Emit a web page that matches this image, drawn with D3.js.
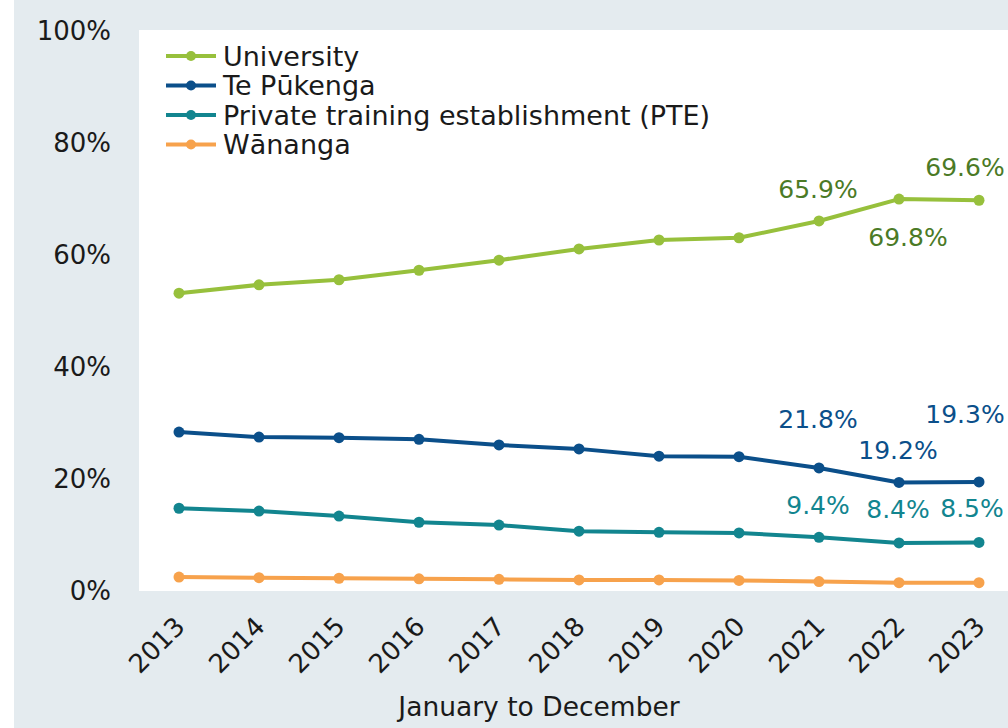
<!DOCTYPE html>
<html lang="en">
<head>
    <meta charset="UTF-8">
    <title>Enrolments by provider type</title>
    <style>
        body { margin: 0; background: #ffffff; }
        text { font-family: "DejaVu Sans", Verdana, sans-serif; }
    </style>
</head>
<body>
<script src='https://d3js.org/d3.v7.min.js'></script>
<script>
    const years = [2013, 2014, 2015, 2016, 2017, 2018, 2019, 2020, 2021, 2022, 2023];
    const seriesNames = ["University", "Te Pūkenga", "Private training establishment (PTE)", "Wānanga"];
    const university = [53.0, 54.5, 55.4, 57.1, 58.9, 60.9, 62.5, 62.9, 65.9, 69.8, 69.6];
    const tePukenga = [28.2, 27.3, 27.2, 26.9, 25.9, 25.2, 23.9, 23.8, 21.8, 19.2, 19.3];
    const pte = [14.6, 14.1, 13.2, 12.1, 11.6, 10.5, 10.3, 10.2, 9.4, 8.4, 8.5];
    const wananga = [2.3, 2.2, 2.1, 2.0, 1.9, 1.8, 1.8, 1.7, 1.5, 1.3, 1.3];
    const yTicks = [0, 20, 40, 60, 80, 100];
    const xTitle = "January to December";
    // which points carry a value label (series index, year)
    const labelled = [[0, 2021], [0, 2022], [0, 2023], [1, 2021], [1, 2022], [1, 2023], [2, 2021], [2, 2022], [2, 2023]];

    function drawChart() {
        const width = 1008;
        const height = 728;
        const plot = {left: 139, top: 30, right: 1008, bottom: 591};

        const lineColors = ["#97c03c", "#0b4f8a", "#12858f", "#f7a24c"];
        const labelColors = ["#4b7a26", "#0b4f8a", "#12858f", "#f7a24c"];
        const values = [university, tePukenga, pte, wananga];

        // offsets of each value label from its point, same order as `labelled`
        const labelOffsets = [[-1, -23], [9, 47], [-14, -24], [-1, -40], [-1, -23], [-14, -59], [-1, -23], [-1, -25], [-7, -25]];

        const svg = d3.select("body")
            .append("svg")
            .attr("width", width)
            .attr("height", height);

        svg.append("rect")
            .attr("x", 14).attr("y", 0)
            .attr("width", width - 14).attr("height", height)
            .attr("fill", "#e4ebef");

        svg.append("rect")
            .attr("x", plot.left).attr("y", plot.top)
            .attr("width", plot.right - plot.left).attr("height", plot.bottom - plot.top)
            .attr("fill", "#ffffff");

        const x = d3.scalePoint()
            .domain(years)
            .range([179, 979]);

        const y = d3.scaleLinear()
            .domain([0, 100])
            .range([590, 30]);

        // y axis labels
        svg.append("g")
            .attr("transform", "translate(" + plot.left + ",0)")
            .call(d3.axisLeft(y).tickValues(yTicks).tickSize(0).tickPadding(28).tickFormat(d => d + "%"))
            .call(g => g.select(".domain").remove())
            .selectAll("text")
            .attr("font-family", "DejaVu Sans, Verdana, sans-serif")
            .attr("font-size", "26px")
            .attr("fill", "#1a1a1a")
            .attr("dy", "0.36em");

        // x axis labels, rotated
        svg.append("g")
            .attr("transform", "translate(0," + plot.bottom + ")")
            .call(d3.axisBottom(x).tickSize(0).tickPadding(0))
            .call(g => g.select(".domain").remove())
            .selectAll("text")
            .attr("font-family", "DejaVu Sans, Verdana, sans-serif")
            .attr("font-size", "26px")
            .attr("fill", "#1a1a1a")
            .attr("text-anchor", "end")
            .attr("dy", 0)
            .attr("transform", "translate(7,37) rotate(-45)");

        svg.append("text")
            .attr("x", 539)
            .attr("y", 716)
            .attr("text-anchor", "middle")
            .attr("font-size", "26.5px")
            .attr("fill", "#1a1a1a")
            .text(xTitle);

        const line = d3.line()
            .x((d, i) => x(years[i]))
            .y(d => y(d));

        // draw bottom series first so the top ones sit over them
        for (let s = values.length - 1; s >= 0; s--) {
            svg.append("path")
                .datum(values[s])
                .attr("fill", "none")
                .attr("stroke", lineColors[s])
                .attr("stroke-width", 4)
                .attr("stroke-linejoin", "round")
                .attr("d", line);
            svg.selectAll(".dot" + s)
                .data(values[s])
                .enter()
                .append("circle")
                .attr("cx", (d, i) => x(years[i]))
                .attr("cy", d => y(d))
                .attr("r", 5.5)
                .style("fill", lineColors[s]);
        }

        // value labels
        svg.selectAll(".vlabel")
            .data(labelled)
            .enter()
            .append("text")
            .attr("x", (d, i) => x(d[1]) + labelOffsets[i][0])
            .attr("y", (d, i) => y(values[d[0]][years.indexOf(d[1])]) + labelOffsets[i][1])
            .attr("text-anchor", "middle")
            .attr("font-size", "25px")
            .attr("fill", d => labelColors[d[0]])
            .text(d => values[d[0]][years.indexOf(d[1])].toFixed(1) + "%");

        // legend
        const legend = svg.append("g")
            .attr("transform", "translate(166,56)");
        seriesNames.forEach((name, i) => {
            const row = legend.append("g").attr("transform", "translate(0," + (i * 29.5) + ")");
            row.append("line")
                .attr("x1", 0).attr("x2", 50)
                .attr("stroke", lineColors[i])
                .attr("stroke-width", 4);
            row.append("circle")
                .attr("cx", 25).attr("r", 5)
                .attr("fill", lineColors[i]);
            row.append("text")
                .attr("x", 57)
                .attr("dy", "0.36em")
                .attr("font-size", "27px")
                .attr("fill", "#1a1a1a")
                .text(name);
        });
    }

    drawChart();
</script>
</body>
</html>
